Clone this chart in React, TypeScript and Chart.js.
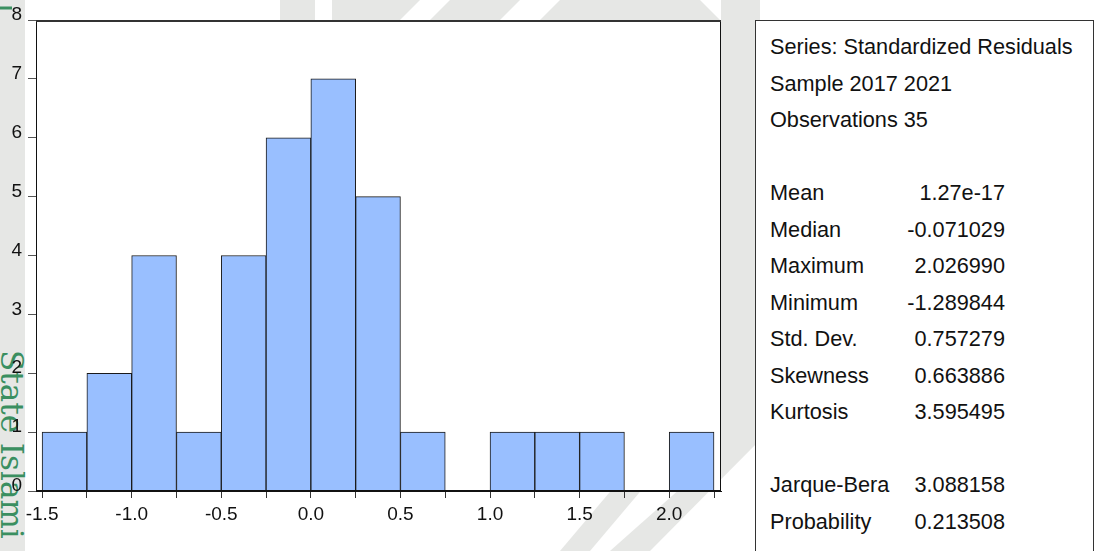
import React, { useEffect, useRef } from "react";
import { Chart, registerables } from "chart.js";

Chart.register(...registerables);

// Histogram bins (width 0.25)
const binCenters = [-1.375, -1.125, -0.875, -0.625, -0.375, -0.125, 0.125, 0.375, 0.625, 0.875, 1.125, 1.375, 1.625, 1.875, 2.125];
const binCounts = [1, 2, 4, 1, 4, 6, 7, 5, 1, 0, 1, 1, 1, 0, 1];
const xTickValues = [-1.5, -1.25, -1.0, -0.75, -0.5, -0.25, 0.0, 0.25, 0.5, 0.75, 1.0, 1.25, 1.5, 1.75, 2.0, 2.25];
const xLabelValues = [-1.5, -1.0, -0.5, 0.0, 0.5, 1.0, 1.5, 2.0];
const yTickValues = [0, 1, 2, 3, 4, 5, 6, 7, 8];

const headerLines = ["Series: Standardized Residuals", "Sample 2017 2021", "Observations 35"];
const statNames = ["Mean", "Median", "Maximum", "Minimum", "Std. Dev.", "Skewness", "Kurtosis"];
const statValues = ["1.27e-17", "-0.071029", "2.026990", "-1.289844", "0.757279", "0.663886", "3.595495"];
const testNames = ["Jarque-Bera", "Probability"];
const testValues = ["3.088158", "0.213508"];

const FONT = "'Liberation Sans', Arial, sans-serif";

const framePlugin = {
  id: "frame",
  afterDraw(chart: any) {
    const { ctx, chartArea } = chart;
    ctx.save();
    ctx.strokeStyle = "#111";
    ctx.lineWidth = 1;
    ctx.strokeRect(chartArea.left + 0.5, chartArea.top + 0.5, chartArea.right - chartArea.left - 1, chartArea.bottom - chartArea.top - 1);
    ctx.strokeStyle = "#333";
    ctx.lineWidth = 2;
    ctx.beginPath();
    ctx.moveTo(chartArea.left, chartArea.top + 1);
    ctx.lineTo(chartArea.right, chartArea.top + 1);
    ctx.stroke();
    ctx.restore();
  },
  beforeDatasetsDraw(chart: any) {
    const { ctx, chartArea } = chart;
    ctx.save();
    ctx.fillStyle = "#ffffff";
    ctx.fillRect(chartArea.left, chartArea.top, chartArea.right - chartArea.left, chartArea.bottom - chartArea.top);
    ctx.restore();
  },
};

export default function App() {
  const canvasRef = useRef<HTMLCanvasElement | null>(null);

  useEffect(() => {
    document.body.style.margin = "0";
    const canvas = canvasRef.current;
    if (!canvas) return;
    const chart = new Chart(canvas, {
      type: "bar",
      data: {
        datasets: [
          {
            data: binCenters.map((c, i) => ({ x: c, y: binCounts[i] })),
            backgroundColor: "#99bfff",
            borderColor: "#1a1a1a",
            borderWidth: 1,
            borderSkipped: "bottom",
            barPercentage: 1,
            categoryPercentage: 1,
          },
        ],
      },
      options: {
        responsive: false,
        animation: false,
        layout: { padding: { left: 0, top: 20, right: 376, bottom: 0 } },
        plugins: { legend: { display: false }, tooltip: { enabled: false } },
        scales: {
          x: {
            type: "linear",
            offset: false,
            min: -1.534,
            max: 2.289,
            afterBuildTicks: (s: any) => {
              s.ticks = xTickValues.map((v) => ({ value: v }));
            },
            afterFit: (s: any) => {
              s.height = 60;
            },
            grid: { offset: false, drawOnChartArea: false, drawTicks: true, tickLength: 7, color: "#333" },
            border: { display: true, color: "#111", width: 1 },
            ticks: {
              autoSkip: false,
              maxRotation: 0,
              padding: 5,
              color: "#111",
              font: { family: FONT, size: 19 },
              callback: (v: any) => (xLabelValues.some((l) => Math.abs(l - v) < 1e-9) ? Number(v).toFixed(1) : ""),
            },
          },
          y: {
            min: 0,
            max: 8,
            afterBuildTicks: (s: any) => {
              s.ticks = yTickValues.map((v) => ({ value: v }));
            },
            afterFit: (s: any) => {
              s.width = 36;
            },
            grid: { drawOnChartArea: false, drawTicks: true, tickLength: 8, color: "#555" },
            border: { display: true, color: "#111", width: 1 },
            ticks: {
              padding: 6,
              labelOffset: -5,
              color: "#111",
              font: { family: FONT, size: 19 },
              callback: (v: any) => String(v),
            },
          },
        },
      },
      plugins: [framePlugin],
    });
    return () => chart.destroy();
  }, []);

  const lineY = (i: number) => 54 + i * 36.5;
  const wm = "#e6e7e5";

  return (
    <div style={{ position: "fixed", left: 0, top: 0, width: 1097, height: 551, background: "#fff", overflow: "hidden" }}>
      <svg width={1097} height={551} style={{ position: "absolute", left: 0, top: 0 }}>
        <rect x={0} y={0} width={25} height={551} fill={wm} />
        <polygon points="280,0 315,0 315,20 280,20" fill={wm} />
        <polygon points="332,0 420,0 400,20 332,20" fill={wm} />
        <polygon points="450,0 520,0 500,20 430,20" fill={wm} />
        <polygon points="560,0 700,0 720,20 540,20" fill={wm} />
        <polygon points="721,0 760,0 760,440 721,455" fill={wm} />
        <polygon points="735,440 760,440 650,551 610,551" fill={wm} />
        <polygon points="620,480 650,480 590,551 560,551" fill={wm} />
        <line x1={0} y1={8} x2={12} y2={8} stroke="#3a8f60" strokeWidth={3} />
        <text x={0} y={0} transform="translate(1,350) rotate(90)" fill="#3a8f60" fontFamily="'DejaVu Serif', serif" fontSize={31}>
          State Islami
        </text>
      </svg>
      <canvas ref={canvasRef} width={1097} height={551} style={{ position: "absolute", left: 0, top: 0 }} />
      <svg width={1097} height={551} style={{ position: "absolute", left: 0, top: 0 }}>
        <rect x={755.5} y={20.5} width={338} height={600} fill="#fff" stroke="#333" strokeWidth={1} />
        <g fontFamily={FONT} fontSize={21.7} fill="#111">
          {headerLines.map((t, i) => (
            <text key={"h" + i} x={770} y={lineY(i)}>{t}</text>
          ))}
          {statNames.map((t, i) => (
            <text key={"n" + i} x={770} y={lineY(i + 4)}>{t}</text>
          ))}
          {statValues.map((t, i) => (
            <text key={"v" + i} x={1005} y={lineY(i + 4)} textAnchor="end">{t}</text>
          ))}
          {testNames.map((t, i) => (
            <text key={"tn" + i} x={770} y={lineY(i + 12)}>{t}</text>
          ))}
          {testValues.map((t, i) => (
            <text key={"tv" + i} x={1005} y={lineY(i + 12)} textAnchor="end">{t}</text>
          ))}
        </g>
      </svg>
    </div>
  );
}
